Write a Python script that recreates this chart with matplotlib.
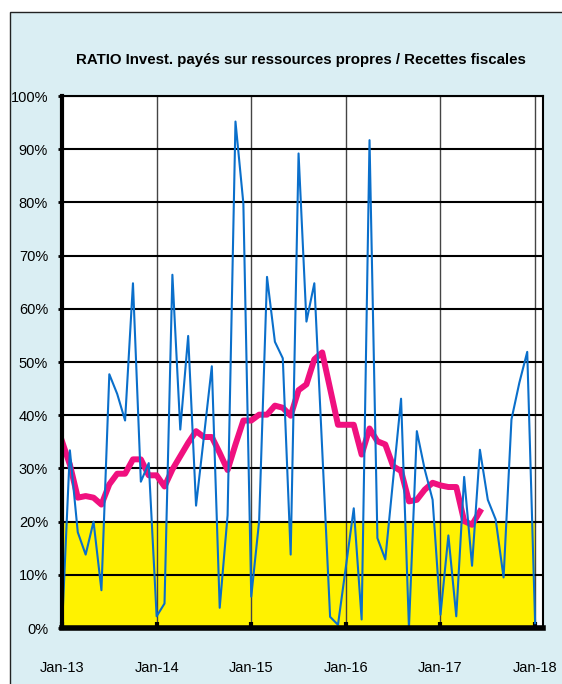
import matplotlib
matplotlib.use("Agg")
import matplotlib.pyplot as plt
from matplotlib.patches import Rectangle
from matplotlib.ticker import FuncFormatter
import numpy as np

plt.rcParams['font.family'] = ['Liberation Sans Narrow', 'Liberation Sans', 'DejaVu Sans']

# Monthly ratio (%) Jan-13 .. Jan-18
ratio = [0, 33.4, 18, 13.8, 20, 7.1, 47.7, 44, 39, 64.8, 27.5, 31,
         2.2, 4.6, 66.4, 37.3, 54.9, 23, 36, 49.2, 3.8, 21.2, 95.2, 79.8,
         5.9, 20.1, 66, 53.8, 50.7, 13.8, 89.2, 57.6, 64.8, 33.5, 2.1, 0.6,
         11.5, 22.5, 1.6, 91.7, 16.9, 12.9, 28, 43.1, 0, 37, 29.8, 24.1,
         2.5, 17.4, 2.2, 28.4, 11.7, 33.5, 24.1, 20.4, 9.5, 39.2, 46.1, 51.9,
         0.9]

# moving average curve (%) Jan-13 .. Jun-17
moyenne = [35.1, 30.7, 24.5, 24.8, 24.5, 23.2, 27, 29, 29, 31.7, 31.7, 28.7,
           28.7, 26.6, 29.8, 32.3, 34.8, 37, 35.9, 35.9, 32.9, 29.7, 34.5, 39,
           39, 40.1, 40.1, 41.8, 41.4, 39.9, 44.7, 45.8, 50.5, 51.8, 45, 38.2,
           38.2, 38.2, 32.6, 37.5, 35.1, 34.5, 30.4, 29.5, 23.8, 24.1, 26, 27.3,
           26.8, 26.5, 26.5, 20.1, 19.4, 21.9]

seuil = 20
year_labels = ['Jan-13', 'Jan-14', 'Jan-15', 'Jan-16', 'Jan-17', 'Jan-18']
title = 'RATIO Invest. payés sur ressources propres / Recettes fiscales'

months = np.arange(len(ratio))
months_ma = np.arange(len(moyenne))

fig = plt.figure(figsize=(5.62, 6.84), dpi=100)
fig.patch.set_facecolor('white')
# chart frame behind everything
frame = Rectangle((10 / 562, -0.01), 1.0, (684 - 12) / 684 + 0.01,
                  transform=fig.transFigure, facecolor='#DAEEF3',
                  edgecolor='#222222', linewidth=1, zorder=-10)
fig.patches.append(frame)

ax = fig.add_axes([62 / 562, 56 / 684, (543 - 62) / 562, (628 - 96) / 684])
ax.set_facecolor('white')

ax.fill_between(months, 0, seuil, color='#FFF200', linewidth=0, zorder=1)
ax.plot(months_ma, moyenne, color='#F0107F', linewidth=4.3, zorder=3)
ax.plot(months, ratio, color='#0A6FCB', linewidth=1.5, zorder=4)

ax.set_xlim(0, 61)
ax.set_ylim(0, 100)
ax.set_yticks(np.arange(0, 101, 10))
ax.yaxis.set_major_formatter(FuncFormatter(lambda v, p: f'{v:.0f}%'))
ax.set_xticks(np.arange(0, 61, 12))
ax.set_xticklabels(year_labels)

ax.grid(axis='y', color='black', linewidth=1.5)
ax.grid(axis='x', color='#444444', linewidth=1.0)
for gl in ax.get_xgridlines() + ax.get_ygridlines():
    gl.set_zorder(2)

ax.spines['left'].set_linewidth(3)
ax.spines['bottom'].set_linewidth(4)
ax.spines['top'].set_linewidth(1.5)
ax.spines['right'].set_linewidth(1.5)
for s in ax.spines.values():
    s.set_zorder(5)

ax.tick_params(axis='y', direction='out', length=3, width=2, pad=7,
               labelsize=10.5, colors='black')
ax.tick_params(axis='x', direction='in', length=4, width=3, pad=24,
               labelsize=10.5, colors='black')

fig.text(0.535, (684 - 60) / 684, title, ha='center', va='center',
         fontsize=10.8, fontweight='bold')

fig.savefig('out.png', dpi=100)
